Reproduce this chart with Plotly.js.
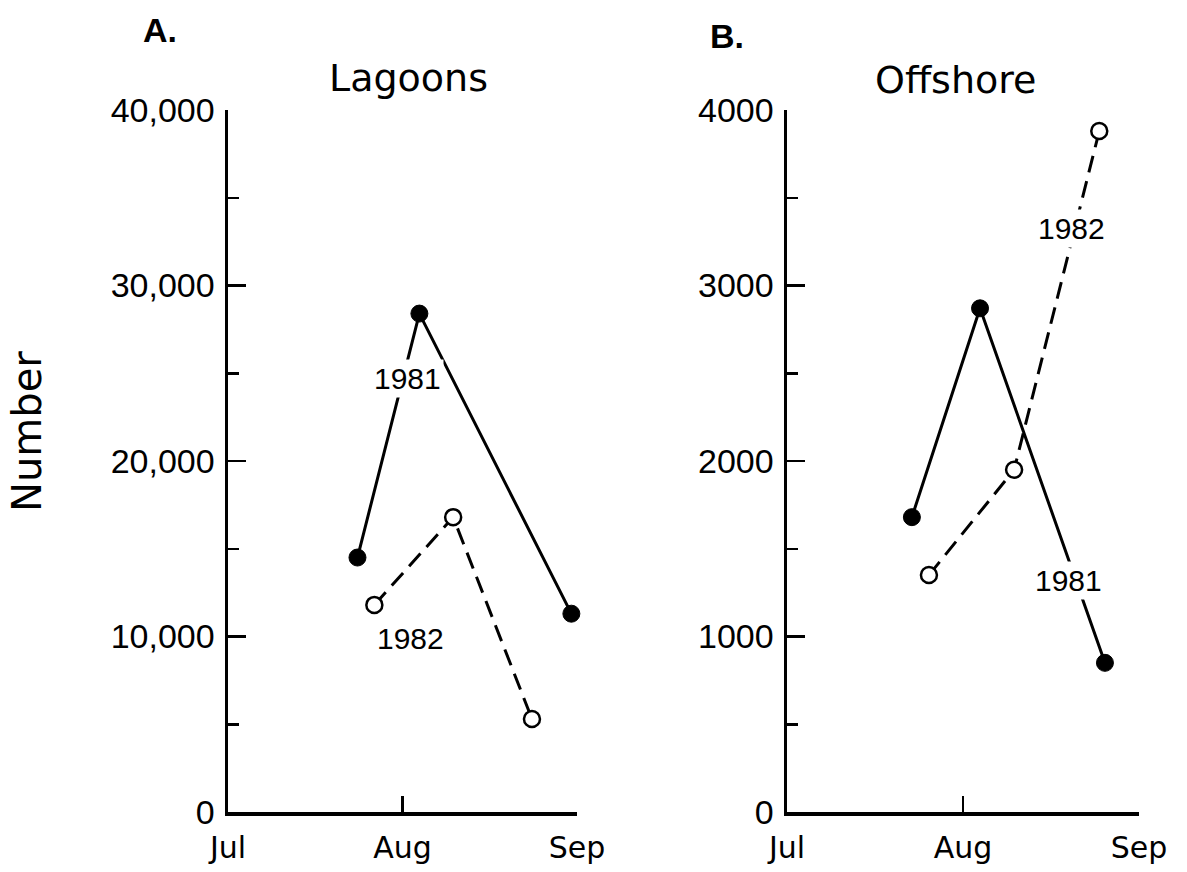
<!DOCTYPE html>
<html>
<head>
<meta charset="utf-8">
<script src="https://cdn.plot.ly/plotly-3.0.1.min.js"></script>
<style>html,body{margin:0;padding:0;background:#fff;}#chart{width:1187px;height:872px;}</style>
</head>
<body>
<div id="chart"></div>
<script>
// ---- data (dates are day-in-season, plotted on a common nominal year) ----
const monthTickDates = ['07-01', '08-01', '09-01'];
const monthTickLabels = ['Jul', 'Aug', 'Sep'];

const lagoonDates1981 = ['07-24', '08-04', '08-31'];
const lagoonValues1981 = [14500, 28400, 11300];
const lagoonDates1982 = ['07-27', '08-10', '08-24'];
const lagoonValues1982 = [11800, 16800, 5300];

const offshoreDates1981 = ['07-23', '08-04', '08-26'];
const offshoreValues1981 = [1680, 2870, 850];
const offshoreDates1982 = ['07-26', '08-10', '08-25'];
const offshoreValues1982 = [1350, 1950, 3880];

const lagoonTickVals = [0, 10000, 20000, 30000, 40000];
const lagoonTickLabels = ['0', '10,000', '20,000', '30,000', '40,000'];
const lagoonMinorVals = [5000, 15000, 25000, 35000];
const offshoreTickVals = [0, 1000, 2000, 3000, 4000];
const offshoreTickLabels = ['0', '1000', '2000', '3000', '4000'];
const offshoreMinorVals = [500, 1500, 2500, 3500];

const panelLetters = ['A.', 'B.'];
const panelTitles = ['Lagoons', 'Offshore'];
const yTitle = 'Number';

// ---- helpers ----
const W = 1187, H = 872;
const YEAR = '2000-';
const d = arr => arr.map(s => YEAR + s);
const px = x => x / W;
const py = y => 1 - y / H;
const FONT = 'DejaVu Sans';
const FONT2 = 'Liberation Sans';

function solid(xref, yref, xs, ys) {
  return {
    x: d(xs), y: ys, xaxis: xref, yaxis: yref, type: 'scatter', mode: 'lines+markers',
    line: {color: '#000', width: 3},
    marker: {symbol: 'circle', size: 17, color: '#000', line: {color: '#000', width: 1}},
    cliponaxis: false, showlegend: false, hoverinfo: 'skip'
  };
}
function dashed(xref, yref, xs, ys) {
  return {
    x: d(xs), y: ys, xaxis: xref, yaxis: yref, type: 'scatter', mode: 'lines+markers',
    line: {color: '#000', width: 3, dash: '17px,9px'},
    marker: {symbol: 'circle', size: 16, color: '#fff', line: {color: '#000', width: 2.5}},
    cliponaxis: false, showlegend: false, hoverinfo: 'skip'
  };
}

const traces = [
  solid('x', 'y', lagoonDates1981, lagoonValues1981),
  dashed('x', 'y', lagoonDates1982, lagoonValues1982),
  solid('x2', 'y2', offshoreDates1981, offshoreValues1981),
  dashed('x2', 'y2', offshoreDates1982, offshoreValues1982)
];

function xAxis(domain, anchor) {
  return {
    type: 'date', domain: domain, anchor: anchor,
    range: [YEAR + monthTickDates[0], YEAR + monthTickDates[2]],
    tickmode: 'array', tickvals: d(monthTickDates), ticktext: monthTickLabels,
    ticks: 'inside', ticklen: 16, tickwidth: 2.5, tickcolor: '#000',
    showline: true, linecolor: '#000', linewidth: 3.5,
    showgrid: false, zeroline: false, ticklabelstandoff: 6,
    tickfont: {family: FONT, size: 30, color: '#000'}
  };
}
function yAxis(domain, anchor, maxV, vals, labels, minorVals) {
  return {
    domain: domain, anchor: anchor, range: [0, maxV],
    tickmode: 'array', tickvals: vals, ticktext: labels,
    ticks: 'inside', ticklen: 18, tickwidth: 2.5, tickcolor: '#000',
    minor: {tickmode: 'array', tickvals: minorVals, ticks: 'inside', ticklen: 11, tickwidth: 2.5, tickcolor: '#000', showgrid: false},
    showline: true, linecolor: '#000', linewidth: 3.5,
    showgrid: false, zeroline: false, ticklabelstandoff: 3,
    tickfont: {family: FONT2, size: 34, color: '#000'}
  };
}

function note(text, x, y, size, family, extra) {
  return Object.assign({
    text: text, xref: 'paper', yref: 'paper', x: px(x), y: py(y),
    xanchor: 'center', yanchor: 'middle', showarrow: false,
    font: {family: family, size: size, color: '#000'}
  }, extra || {});
}

const yDom = [py(812), py(110)];
const layout = {
  width: W, height: H,
  margin: {l: 0, r: 0, t: 0, b: 0},
  paper_bgcolor: '#fff', plot_bgcolor: 'rgba(0,0,0,0)',
  showlegend: false,
  xaxis: xAxis([px(228), px(577)], 'y'),
  yaxis: yAxis(yDom, 'x', 40000, lagoonTickVals, lagoonTickLabels, lagoonMinorVals),
  xaxis2: xAxis([px(787), px(1139)], 'y2'),
  yaxis2: yAxis(yDom, 'x2', 4000, offshoreTickVals, offshoreTickLabels, offshoreMinorVals),
  annotations: [
    note('<b>' + panelLetters[0] + '</b>', 160, 30, 34, FONT2),
    note('<b>' + panelLetters[1] + '</b>', 727, 36, 34, FONT2),
    note(panelTitles[0], 408, 78, 38, FONT),
    note(panelTitles[1], 955, 80, 38, FONT),
    note(yTitle, 27, 432, 40, FONT, {textangle: -90}),
    note('1981', 407, 378, 30, FONT2, {bgcolor: '#fff', borderpad: 2}),
    note('1982', 410, 638, 30, FONT2),
    note('1982', 1071, 228, 30, FONT2, {bgcolor: '#fff', borderpad: 2}),
    note('1981', 1068, 580, 30, FONT2, {bgcolor: '#fff', borderpad: 2})
  ]
};

Plotly.newPlot('chart', traces, layout, {staticPlot: true, displayModeBar: false});
</script>
</body>
</html>
